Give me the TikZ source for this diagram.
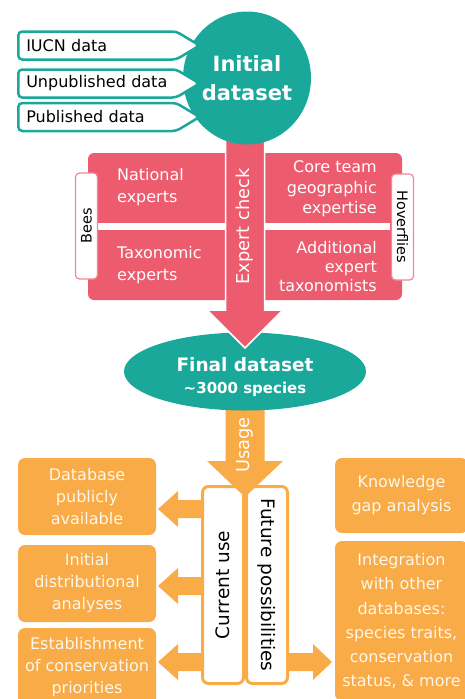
\documentclass[tikz,border=0pt]{standalone}
\usepackage{fontspec}
\setmainfont{DejaVu Sans}
\usetikzlibrary{calc,shapes.geometric,shapes.symbols}

\definecolor{dsteal}{RGB}{26,168,155}
\definecolor{dspink}{RGB}{236,91,110}
\definecolor{dstab}{RGB}{242,135,150}
\definecolor{dsorange}{RGB}{248,171,70}
\definecolor{dscream}{RGB}{255,247,234}

\tikzset{
  srcbox/.style={signal, signal to=east, signal pointer angle=62,
    draw=dsteal, line width=2.5pt, fill=white, rounded corners=4pt,
    minimum height=28pt, text width=142pt, inner xsep=8pt, inner ysep=0pt,
    align=left, anchor=west, font=\fontsize{16}{19}\selectfont},
  tealnode/.style={ellipse, fill=dsteal, text=white, align=center, inner sep=0pt},
  pinktxt/.style={text=white, inner sep=0pt},
  tabbox/.style={draw=dstab, line width=1.2pt, fill=white, rounded corners=4pt,
    minimum width=106pt, minimum height=22pt, inner sep=0pt,
    font=\fontsize{14.5}{17}\selectfont},
  colbox/.style={draw=dsorange, line width=3pt, fill=white, rounded corners=6pt,
    minimum width=197pt, minimum height=41pt, inner sep=0pt,
    font=\fontsize{18.5}{22}\selectfont},
  obox/.style={fill=dsorange, rounded corners=7pt, text=dscream, align=center,
    inner sep=0pt, minimum width=138pt, minimum height=77pt,
    font=\fontsize{16}{22}\selectfont},
  arrowtxt/.style={text=white, inner sep=0pt, rotate=90,
    font=\fontsize{17.8}{20}\selectfont}
}

\begin{document}
\begin{tikzpicture}[x=1pt,y=-1pt]
  \useasboundingbox (0,0) rectangle (465,699);

  % usage: arrows out of the two columns
  \foreach \y in {509,586,662}{
    \fill[dsorange] (204,\y-9) -- (178,\y-9) -- (178,\y-18) -- (158,\y)
      -- (178,\y+18) -- (178,\y+9) -- (204,\y+9) -- cycle;
  }
  \fill[dsorange] (286,653) -- (313,653) -- (313,644) -- (332,662)
    -- (313,680) -- (313,671) -- (286,671) -- cycle;

  \node[colbox, rotate=90] (cur) at (223,585) {Current use};
  \node[colbox, rotate=-90] (fut) at (267,585) {Future possibilities};

  \node[obox] (dbpub) at (87,496.5) {Database\\publicly\\available};
  \node[obox] (distr) at (87,583.5) {Initial\\distributional\\analyses};
  \node[obox, minimum height=78pt] (estab) at (87,667) {Establishment\\of conservation\\priorities};
  \node[obox, minimum width=133pt, minimum height=75pt,
    font=\fontsize{16}{24}\selectfont] (gap) at (401.5,495.5) {Knowledge\\gap analysis};
  \node[obox, minimum width=133pt, minimum height=160pt,
    font=\fontsize{16}{24.3}\selectfont] (integ) at (401.5,621) {Integration\\with other\\databases:\\species traits,\\conservation\\status, \& more};

  % usage arrow
  \coordinate (useTip) at (245,497);
  \fill[dsorange] (225.5,395) -- (225.5,461) -- (207,461) -- (useTip)
    -- (283,461) -- (264.5,461) -- (264.5,395) -- cycle;
  \node[arrowtxt] (usage) at (245,445) {Usage};

  \node[tealnode, minimum width=242pt, minimum height=78pt] (final) at (245,371.5) {};
  \node[text=white, align=center, inner sep=0pt,
    font=\fontsize{18.5}{21}\selectfont\bfseries] (finaltxt) at (245,377)
    {Final dataset\\[1pt]
     {\fontsize{15}{18}\selectfont\textasciitilde3000 species}};

  % expert check panel
  \node[fill=dspink, rounded corners=6pt, minimum width=314pt, minimum height=147pt,
    inner sep=0pt] (panel) at (245,226.5) {};
  \draw[white, line width=7pt] (98,226.5) -- (226,226.5) (264,226.5) -- (390,226.5);
  \node[tabbox, rotate=90] (bees) at (86.5,226) {Bees};
  \node[tabbox, rotate=-90] (hover) at (402.5,227) {Hoverflies};

  \node[pinktxt, anchor=west, align=left, font=\fontsize{16}{22}\selectfont]
    (natexp) at (117,187) {National\\experts};
  \node[pinktxt, anchor=west, align=left, font=\fontsize{16}{22}\selectfont]
    (taxexp) at (117,265) {Taxonomic\\experts};
  \node[pinktxt, anchor=east, align=right, font=\fontsize{16}{20.5}\selectfont]
    (coreteam) at (377,189) {Core team\\geographic\\expertise};
  \node[pinktxt, anchor=east, align=right, font=\fontsize{16}{19}\selectfont]
    (addexp) at (377,267) {Additional\\expert\\taxonomists};

  \coordinate (chkTip) at (245,348);
  \fill[dspink, draw=white, line width=1.5pt] (225.5,100) -- (225.5,310) -- (207,310)
    -- (chkTip) -- (283,310) -- (264.5,310) -- (264.5,100) -- cycle;
  \node[arrowtxt] (check) at (245,226.5) {Expert check};

  % initial dataset and its sources
  \node[tealnode, minimum width=128pt, minimum height=133pt,
    font=\fontsize{21}{29}\selectfont\bfseries] (init) at (247,78) {Initial\\dataset};

  \node[srcbox] (iucn) at (17,45.5) {IUCN data};
  \node[srcbox] (unpub) at (17,83.5) {Unpublished data};
  \node[srcbox] (pub) at (17,117) {Published data};
\end{tikzpicture}
\end{document}
